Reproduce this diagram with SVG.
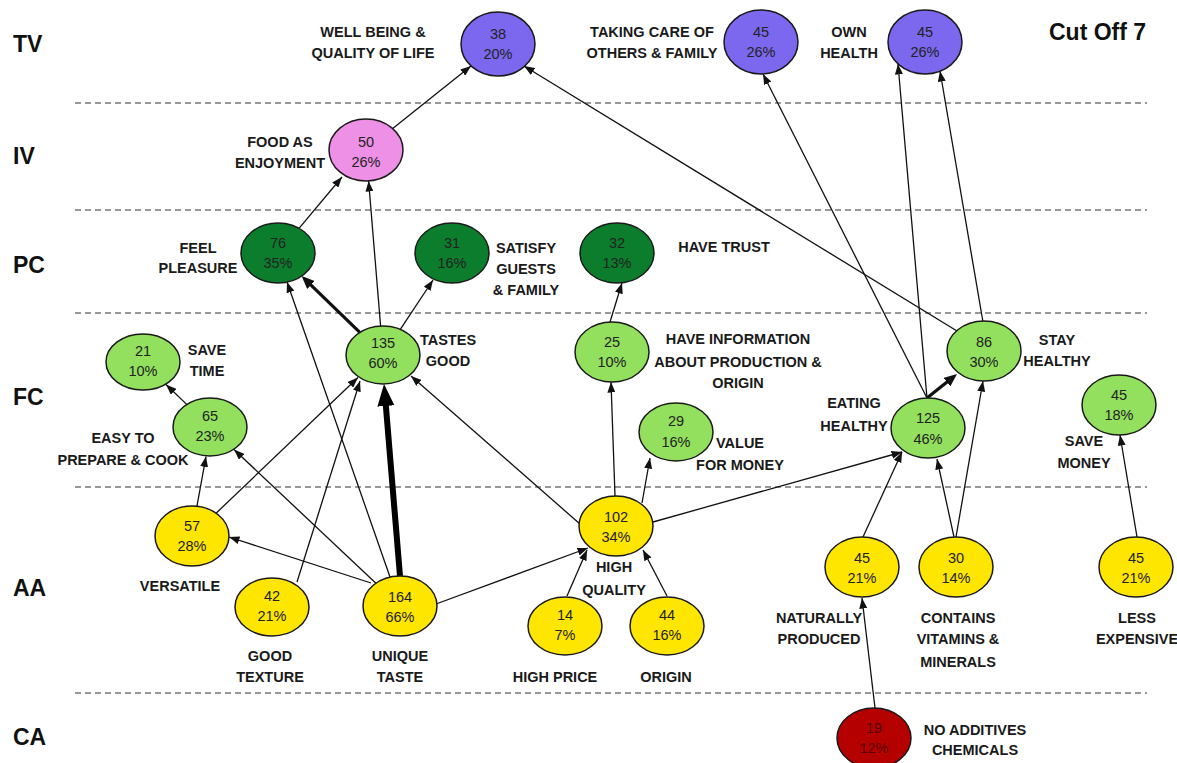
<svg xmlns="http://www.w3.org/2000/svg" width="1177" height="763" viewBox="0 0 1177 763">
<style>
text{font-family:"Liberation Sans",Arial,sans-serif}
.lbl{font-weight:bold;font-size:14.5px;fill:#1a1a1a;text-anchor:middle}
.val{font-size:14.5px;fill:#222;text-anchor:middle}
.axis{font-weight:bold;font-size:23px;fill:#111}
.node{stroke:#1a1a1a;stroke-width:1.5}
.tv{fill:#7B68EE}
.iv{fill:#EE90E6}
.pc{fill:#0C7D2D}
.fc{fill:#92E05E}
.aa{fill:#FFE600}
.ca{fill:#B50000}
.sep{stroke:#777;stroke-width:1.5;stroke-dasharray:6 4;fill:none}
.c{stroke:#111;stroke-width:1.3;fill:none;marker-end:url(#a)}
.c3{stroke:#111;stroke-width:3.2;fill:none;marker-end:url(#a3)}
.c6{stroke:#000;stroke-width:6;fill:none;marker-end:url(#a6)}
</style>
<defs>
<marker id="a" markerUnits="userSpaceOnUse" markerWidth="11" markerHeight="8" refX="10.5" refY="4" orient="auto"><path d="M0,0 L10.5,4 L0,8 z" fill="#111"/></marker>
<marker id="a3" markerUnits="userSpaceOnUse" markerWidth="14" markerHeight="11" refX="5" refY="5.5" orient="auto"><path d="M0,0 L13,5.5 L0,11 z" fill="#111"/></marker>
<marker id="a6" markerUnits="userSpaceOnUse" markerWidth="23" markerHeight="17" refX="8" refY="8.5" orient="auto"><path d="M0,0 L22,8.5 L0,17 z" fill="#000"/></marker>
</defs>
<rect width="1177" height="763" fill="#fff"/>
<g id="levels">
<line class="sep" x1="75" y1="103" x2="1147" y2="103"/>
<line class="sep" x1="75" y1="210" x2="1147" y2="210"/>
<line class="sep" x1="75" y1="313" x2="1147" y2="313"/>
<line class="sep" x1="75" y1="487" x2="1147" y2="487"/>
<line class="sep" x1="75" y1="693" x2="1147" y2="693"/>
<text class="axis" x="13" y="52">TV</text>
<text class="axis" x="13" y="164">IV</text>
<text class="axis" x="13" y="273">PC</text>
<text class="axis" x="13" y="405">FC</text>
<text class="axis" x="13" y="596">AA</text>
<text class="axis" x="13" y="745">CA</text>
<text class="axis" x="1049" y="40">Cut Off 7</text>
</g>
<g id="connectors">
<line class="c" x1="392.7" y1="128.5" x2="471" y2="66"/>
<line class="c" x1="299" y1="228.3" x2="342" y2="177"/>
<line class="c" x1="380.6" y1="326" x2="368.6" y2="181"/>
<line class="c3" x1="359.8" y1="332.4" x2="307.4" y2="281.6"/>
<line class="c" x1="400.3" y1="329.4" x2="433" y2="280"/>
<line class="c6" x1="400" y1="576" x2="385.2" y2="398"/>
<line class="c" x1="390" y1="577" x2="287" y2="282"/>
<line class="c" x1="375.9" y1="583.3" x2="234" y2="449.5"/>
<line class="c" x1="371" y1="583" x2="229" y2="537"/>
<line class="c" x1="436" y1="604" x2="588" y2="548"/>
<line class="c" x1="216.1" y1="513.2" x2="358" y2="377.5"/>
<line class="c" x1="196.9" y1="506.3" x2="206" y2="456.5"/>
<line class="c" x1="186.7" y1="404.4" x2="166" y2="384.5"/>
<line class="c" x1="297" y1="582" x2="360" y2="381"/>
<line class="c" x1="580" y1="524" x2="411" y2="376"/>
<line class="c" x1="615" y1="496" x2="611" y2="382"/>
<line class="c" x1="642" y1="503" x2="650" y2="458"/>
<line class="c" x1="653" y1="522" x2="902" y2="452"/>
<line class="c" x1="567" y1="596" x2="587" y2="550"/>
<line class="c" x1="667" y1="596" x2="643" y2="550"/>
<line class="c" x1="610" y1="322" x2="622" y2="283"/>
<line class="c" x1="927" y1="398" x2="763" y2="74"/>
<line class="c" x1="927" y1="398" x2="898" y2="64"/>
<line class="c3" x1="927" y1="398" x2="950.8" y2="379"/>
<line class="c" x1="983" y1="322" x2="940" y2="71"/>
<line class="c" x1="957" y1="331" x2="524" y2="66"/>
<line class="c" x1="863" y1="537" x2="902" y2="452"/>
<line class="c" x1="954" y1="537" x2="937" y2="459"/>
<line class="c" x1="956" y1="537" x2="983" y2="381"/>
<line class="c" x1="1137" y1="537" x2="1120" y2="435"/>
<line class="c" x1="875" y1="708" x2="862" y2="598"/>
</g>
<g id="n-wb"><ellipse class="node tv" cx="498" cy="44" rx="37" ry="32"/><text class="val" x="498" y="39">38</text><text class="val" x="498" y="59">20%</text><text class="lbl" x="373" y="37">WELL BEING &amp;</text><text class="lbl" x="373" y="58">QUALITY OF LIFE</text></g>
<g id="n-tc"><ellipse class="node tv" cx="761" cy="42" rx="37" ry="32"/><text class="val" x="761" y="37">45</text><text class="val" x="761" y="57">26%</text><text class="lbl" x="652" y="37">TAKING CARE OF</text><text class="lbl" x="652" y="58">OTHERS &amp; FAMILY</text></g>
<g id="n-oh"><ellipse class="node tv" cx="925" cy="42" rx="37" ry="32"/><text class="val" x="925" y="37">45</text><text class="val" x="925" y="57">26%</text><text class="lbl" x="849" y="37">OWN</text><text class="lbl" x="849" y="58">HEALTH</text></g>
<g id="n-fae"><ellipse class="node iv" cx="366" cy="150" rx="37" ry="31"/><text class="val" x="366" y="147">50</text><text class="val" x="366" y="167">26%</text><text class="lbl" x="280" y="147">FOOD AS</text><text class="lbl" x="280" y="168">ENJOYMENT</text></g>
<g id="n-fp"><ellipse class="node pc" cx="278" cy="253" rx="37" ry="30"/><text class="val" x="278" y="248">76</text><text class="val" x="278" y="268">35%</text><text class="lbl" x="198" y="253">FEEL</text><text class="lbl" x="198" y="273">PLEASURE</text></g>
<g id="n-sg"><ellipse class="node pc" cx="452" cy="253" rx="37" ry="30"/><text class="val" x="452" y="248">31</text><text class="val" x="452" y="268">16%</text><text class="lbl" x="526" y="253">SATISFY</text><text class="lbl" x="526" y="274">GUESTS</text><text class="lbl" x="526" y="295">&amp; FAMILY</text></g>
<g id="n-ht"><ellipse class="node pc" cx="617" cy="253" rx="37" ry="30"/><text class="val" x="617" y="248">32</text><text class="val" x="617" y="268">13%</text><text class="lbl" x="724" y="252">HAVE TRUST</text></g>
<g id="n-tg"><ellipse class="node fc" cx="383" cy="355" rx="37" ry="29"/><text class="val" x="383" y="348">135</text><text class="val" x="383" y="368">60%</text><text class="lbl" x="448" y="345">TASTES</text><text class="lbl" x="448" y="366">GOOD</text></g>
<g id="n-st"><ellipse class="node fc" cx="143" cy="362" rx="37" ry="28"/><text class="val" x="143" y="356">21</text><text class="val" x="143" y="376">10%</text><text class="lbl" x="207" y="355">SAVE</text><text class="lbl" x="207" y="376">TIME</text></g>
<g id="n-etp"><ellipse class="node fc" cx="210" cy="427" rx="37" ry="29"/><text class="val" x="210" y="421">65</text><text class="val" x="210" y="441">23%</text><text class="lbl" x="123" y="443">EASY TO</text><text class="lbl" x="123" y="465">PREPARE &amp; COOK</text></g>
<g id="n-hi"><ellipse class="node fc" cx="612" cy="352" rx="37" ry="30"/><text class="val" x="612" y="347">25</text><text class="val" x="612" y="367">10%</text><text class="lbl" x="738" y="344">HAVE INFORMATION</text><text class="lbl" x="738" y="367">ABOUT PRODUCTION &amp;</text><text class="lbl" x="738" y="388">ORIGIN</text></g>
<g id="n-vm"><ellipse class="node fc" cx="676" cy="432" rx="37" ry="29"/><text class="val" x="676" y="426">29</text><text class="val" x="676" y="447">16%</text><text class="lbl" x="740" y="448">VALUE</text><text class="lbl" x="740" y="470">FOR MONEY</text></g>
<g id="n-eh"><ellipse class="node fc" cx="928" cy="428" rx="37" ry="30"/><text class="val" x="928" y="423">125</text><text class="val" x="928" y="444">46%</text><text class="lbl" x="854" y="408">EATING</text><text class="lbl" x="854" y="431">HEALTHY</text></g>
<g id="n-sh"><ellipse class="node fc" cx="984" cy="351" rx="37" ry="30"/><text class="val" x="984" y="347">86</text><text class="val" x="984" y="367">30%</text><text class="lbl" x="1057" y="345">STAY</text><text class="lbl" x="1057" y="366">HEALTHY</text></g>
<g id="n-sm"><ellipse class="node fc" cx="1119" cy="405" rx="37" ry="30"/><text class="val" x="1119" y="400">45</text><text class="val" x="1119" y="420">18%</text><text class="lbl" x="1084" y="446">SAVE</text><text class="lbl" x="1084" y="468">MONEY</text></g>
<g id="n-ve"><ellipse class="node aa" cx="192" cy="536" rx="37" ry="30"/><text class="val" x="192" y="531">57</text><text class="val" x="192" y="551">28%</text><text class="lbl" x="180" y="591">VERSATILE</text></g>
<g id="n-gt"><ellipse class="node aa" cx="272" cy="607" rx="37" ry="29"/><text class="val" x="272" y="601">42</text><text class="val" x="272" y="621">21%</text><text class="lbl" x="270" y="661">GOOD</text><text class="lbl" x="270" y="682">TEXTURE</text></g>
<g id="n-ut"><ellipse class="node aa" cx="400" cy="606" rx="37" ry="30"/><text class="val" x="400" y="602">164</text><text class="val" x="400" y="622">66%</text><text class="lbl" x="400" y="661">UNIQUE</text><text class="lbl" x="400" y="682">TASTE</text></g>
<g id="n-hq"><ellipse class="node aa" cx="616" cy="526" rx="37" ry="30"/><text class="val" x="616" y="522">102</text><text class="val" x="616" y="542">34%</text><text class="lbl" x="614" y="572">HIGH</text><text class="lbl" x="614" y="595">QUALITY</text></g>
<g id="n-hp"><ellipse class="node aa" cx="565" cy="626" rx="37" ry="29"/><text class="val" x="565" y="620">14</text><text class="val" x="565" y="640">7%</text><text class="lbl" x="555" y="682">HIGH PRICE</text></g>
<g id="n-or"><ellipse class="node aa" cx="667" cy="626" rx="37" ry="29"/><text class="val" x="667" y="620">44</text><text class="val" x="667" y="640">16%</text><text class="lbl" x="666" y="682">ORIGIN</text></g>
<g id="n-np"><ellipse class="node aa" cx="862" cy="567" rx="37" ry="30"/><text class="val" x="862" y="563">45</text><text class="val" x="862" y="583">21%</text><text class="lbl" x="819" y="623">NATURALLY</text><text class="lbl" x="819" y="644">PRODUCED</text></g>
<g id="n-cv"><ellipse class="node aa" cx="956" cy="567" rx="37" ry="30"/><text class="val" x="956" y="563">30</text><text class="val" x="956" y="583">14%</text><text class="lbl" x="958" y="623">CONTAINS</text><text class="lbl" x="958" y="644">VITAMINS &amp;</text><text class="lbl" x="958" y="667">MINERALS</text></g>
<g id="n-le"><ellipse class="node aa" cx="1136" cy="567" rx="37" ry="30"/><text class="val" x="1136" y="563">45</text><text class="val" x="1136" y="583">21%</text><text class="lbl" x="1137" y="623">LESS</text><text class="lbl" x="1137" y="644">EXPENSIVE</text></g>
<g id="n-na"><ellipse class="node ca" cx="874" cy="738" rx="37" ry="30"/><text class="val" x="874" y="733" style="fill:#5a0000">19</text><text class="val" x="874" y="753" style="fill:#5a0000">12%</text><text class="lbl" x="975" y="735">NO ADDITIVES</text><text class="lbl" x="975" y="755">CHEMICALS</text></g>
</svg>
